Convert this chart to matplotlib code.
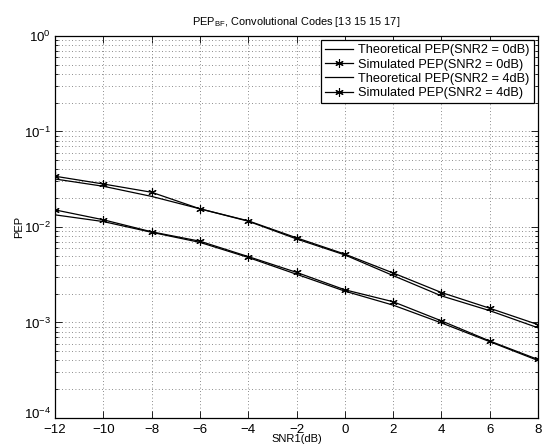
import matplotlib
matplotlib.use("Agg")
import matplotlib.pyplot as plt
import matplotlib.transforms as mtransforms
from matplotlib.ticker import LogLocator, NullFormatter

snr1 = [-12, -10, -8, -6, -4, -2, 0, 2, 4, 6, 8]
theo_0db = [0.0318, 0.0267, 0.0209, 0.0155, 0.0115, 0.0075, 0.0051, 0.0031, 0.0019, 0.00133, 0.00088]
sim_0db = [0.0340, 0.0282, 0.0231, 0.0155, 0.0116, 0.0077, 0.0052, 0.0033, 0.00206, 0.00141, 0.00095]
theo_4db = [0.0134, 0.0114, 0.0088, 0.0069, 0.0048, 0.0032, 0.00213, 0.00152, 0.00099, 0.00063, 0.00040]
sim_4db = [0.0151, 0.0119, 0.0089, 0.0071, 0.0049, 0.00335, 0.0022, 0.00165, 0.00104, 0.00064, 0.00041]
xticks = [-12, -10, -8, -6, -4, -2, 0, 2, 4, 6, 8]

plt.rcParams['font.family'] = ['Liberation Sans', 'DejaVu Sans']
plt.rcParams['mathtext.fontset'] = 'custom'
plt.rcParams['mathtext.rm'] = 'Liberation Sans'
plt.rcParams['mathtext.it'] = 'Liberation Sans'

fig = plt.figure(figsize=(5.43, 4.47), dpi=100)
ax = fig.add_axes([0.1013, 0.0649, 0.8895, 0.8546])

ast = (6, 2, 0)
ax.semilogy(snr1, theo_0db, color='black', lw=0.9, label='Theoretical PEP(SNR2 = 0dB)')
ax.semilogy(snr1, sim_0db, color='black', lw=0.9, marker=ast, ms=6, mew=0.8, label='Simulated PEP(SNR2 = 0dB)')
ax.semilogy(snr1, theo_4db, color='black', lw=0.9, label='Theoretical PEP(SNR2 = 4dB)')
ax.semilogy(snr1, sim_4db, color='black', lw=0.9, marker=ast, ms=6, mew=0.8, label='Simulated PEP(SNR2 = 4dB)')

ax.set_xlim(-12, 8)
ax.set_ylim(1e-4, 1)
ax.set_xticks(xticks)
ax.set_xticklabels(['\u2212%d' % -v if v < 0 else '%d' % v for v in xticks])
ax.yaxis.set_major_locator(LogLocator(base=10, numticks=10))
ax.yaxis.set_minor_locator(LogLocator(base=10, subs=range(2, 10), numticks=20))
ax.yaxis.set_minor_formatter(NullFormatter())
ax.tick_params(which='both', direction='in', top=True, right=True, labelsize=9.5, width=0.6)
ax.tick_params(which='major', length=5, pad=3)
ax.tick_params(axis='x', which='major', pad=4)
ax.tick_params(which='minor', length=2.5)
ax.grid(True, which='major', axis='both', linestyle=(0, (1, 3)), color='#666666', lw=0.6)
ax.grid(True, which='minor', axis='y', linestyle=(0, (1, 3)), color='#666666', lw=0.6)
for s in ax.spines.values():
    s.set_linewidth(0.9)

ax.set_title('PEP$_{\\mathrm{BF}}$, Convolutional Codes [13 15 15 17]', fontsize=7.9, pad=8)
ax.set_xlabel('SNR1(dB)', fontsize=8, labelpad=-1)
ax.set_ylabel('PEP', fontsize=8, labelpad=0)

leg = ax.legend(loc='upper right', fontsize=9.2, frameon=True, fancybox=False, framealpha=1,
                edgecolor='black', borderpad=0.3, labelspacing=0.18, handlelength=2.2,
                handletextpad=0.4, borderaxespad=0.35)
leg.get_frame().set_linewidth(0.9)

fig.canvas.draw()
# nudge the lowest y tick label up, as in the reference, so it clears the x tick label
offset = mtransforms.ScaledTranslation(0, 4 / 72, fig.dpi_scale_trans)
for lab in ax.get_yticklabels():
    if lab.get_position()[1] <= 1.01e-4:
        lab.set_transform(lab.get_transform() + offset)

fig.savefig('out.png', dpi=100)
